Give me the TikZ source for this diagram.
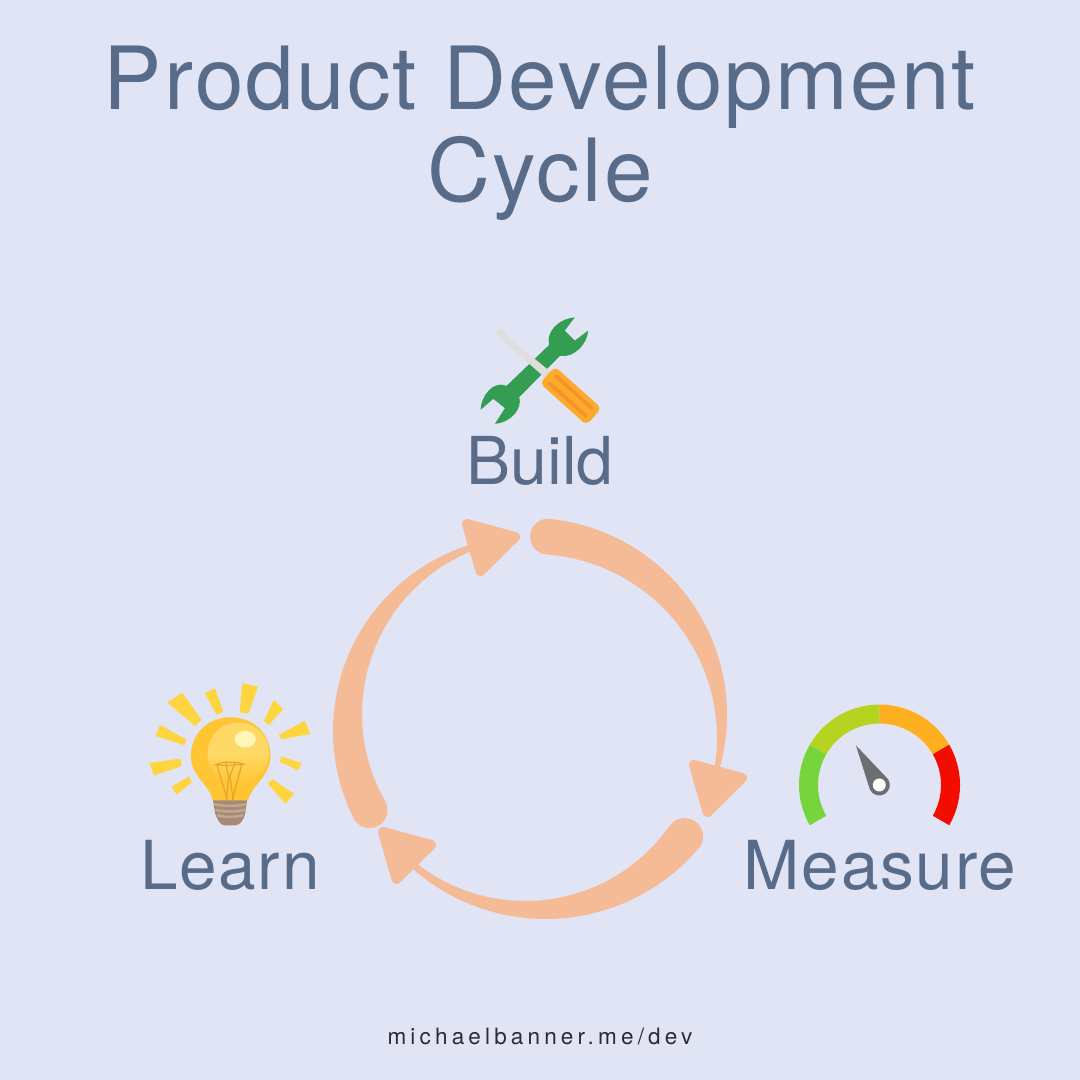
\documentclass[tikz,border=0pt]{standalone}
\usepackage{fontspec}
\newfontfamily\headfont[LetterSpace=2.5]{TeX Gyre Heros}
\newfontfamily\plainfont{TeX Gyre Heros}
\newfontfamily\footfont[LetterSpace=18.5]{TeX Gyre Heros}
\usetikzlibrary{calc}
\definecolor{pagebg}{HTML}{E0E4F5}
\definecolor{slateblue}{HTML}{586B88}
\definecolor{peach}{HTML}{F4BB96}
\definecolor{footink}{HTML}{2B2B33}
\definecolor{wrenchgreen}{HTML}{339E51}
\definecolor{bladegray}{HTML}{DEDEDE}
\definecolor{gripyellow}{HTML}{FBAA2A}
\definecolor{gripstripe}{HTML}{F7922B}
\definecolor{rayyellow}{HTML}{FFD53F}
\definecolor{bulbyellow}{HTML}{FFC535}
\definecolor{bulblight}{HTML}{FFD966}
\definecolor{bulbshine}{HTML}{FFF6B8}
\definecolor{filament}{HTML}{E5A52C}
\definecolor{capbrown}{HTML}{A58B75}
\definecolor{capstripe}{HTML}{BFA88F}
\definecolor{needlegray}{HTML}{6D6E71}
\tikzset{
  bigtitle/.style={font=\headfont\fontsize{24.8}{26.3}\selectfont, text=slateblue, align=center, inner sep=0pt},
  steplabel/.style={font=\headfont\fontsize{19.2}{24}\selectfont, text=slateblue, inner sep=0pt, anchor=base},
  headtip/.style={fill=peach, draw=peach, line width=0.1cm, line join=round},
}
\begin{document}
\begin{tikzpicture}[x=0.01cm, y=0.01cm]
  % ── Page ────────────────────────────────────────────────
  \useasboundingbox (0,0) rectangle (1080,1080);
  \fill[pagebg] (0,0) rectangle (1080,1080);

  % ── Texts ───────────────────────────────────────────────
  \node[bigtitle, anchor=base] (title) at (540,878) {Product Development\\Cycle};
  \node[steplabel, font=\plainfont\fontsize{18.8}{24}\selectfont] (build) at (540,595.7) {Build};
  \node[steplabel] (learn) at (230,190) {Learn};
  \node[steplabel] (measure) at (880,190) {Measure};
  \node[font=\footfont\fontsize{6.4}{8}\selectfont, text=footink, inner sep=0pt, anchor=base] (footer) at (540,35.7) {michaelbanner.me/dev};

  % ── Tapered arcs ────────────────────────────────────────
  % Build to Measure
  \fill[peach] ($(530,365)+(84:197)$) arc[start angle=84, end angle=-18, radius=197]
    -- ($(533,342)+(-12:184)$) arc[start angle=-12, end angle=85.3, radius=184]
    arc[start angle=270, end angle=90, radius=18] -- cycle;
  % Measure to Learn
  \fill[peach] ($(545.6,362)+(-40.4:201)$) arc[start angle=-40.4, end angle=-133, radius=201]
    -- ($(525.3,355)+(-129:176)$) arc[start angle=-129, end angle=-35, radius=176]
    arc[start angle=145, end angle=-40.4, radius=18.5] -- cycle;
  % Learn to Build
  \fill[peach] ($(528,349)+(206.5:195)$) arc[start angle=206.5, end angle=104, radius=195]
    -- ($(538,366)+(110:176)$) arc[start angle=110, end angle=209.7, radius=176]
    arc[start angle=29.7, end angle=-153.5, radius=18] -- cycle;

  % Arrow heads, one triangle moved around
  \foreach \hx/\hy in {0/0, 227/-241, -84/-308}{
    \filldraw[headtip, shift={(\hx,\hy)}] (467,556) -- (515,543) -- (480.5,509) -- cycle;
  }

  % ── Tools above Build ───────────────────────────────────
  \begin{scope}[shift={(460,780)}, x=0.00333cm, y=-0.00333cm]
    \fill[wrenchgreen] (140,258) -- (268,135) .. controls (258,100) and (290,58) .. (345,52)
      -- (315,92) -- (345,122) -- (385,92) .. controls (383,130) and (345,175) .. (300,168)
      -- (178,292) .. controls (188,325) and (155,368) .. (105,372)
      -- (135,325) -- (100,297) -- (62,330) .. controls (62,290) and (100,240) .. (140,258) -- cycle;
    \fill[bladegray] (107,100) -- (125,80) -- (148,115) -- (280,222) -- (260,238) -- (125,118) -- cycle;
    \fill[gripyellow, rounded corners=0.05cm] (285,200) -- (425,325) -- (380,376) -- (240,250) -- cycle;
    \draw[gripstripe, line width=0.035cm, line cap=round] (288,228) -- (395,325);
    \draw[gripstripe, line width=0.035cm, line cap=round] (268,250) -- (378,348);
  \end{scope}

  % ── Bulb above Learn ────────────────────────────────────
  \begin{scope}[shift={(140,410)}, x=0.00333cm, y=-0.00333cm]
    \foreach \ray in {
      {(82,98) -- (127,68) -- (185,150) -- (165,168)},
      {(195,70) -- (225,55) -- (250,125) -- (230,135)},
      {(307,40) -- (355,50) -- (325,132) -- (300,127)},
      {(402,90) -- (430,117) -- (388,165) -- (372,153)},
      {(417,195) -- (495,153) -- (512,192) -- (425,208)},
      {(425,260) -- (487,280) -- (475,302) -- (420,275)},
      {(397,328) -- (463,372) -- (437,402) -- (384,342)},
      {(148,320) -- (155,338) -- (110,375) -- (95,350)},
      {(28,280) -- (122,266) -- (124,290) -- (42,317)},
      {(60,165) -- (141,210) -- (133,226) -- (47,198)}}{
      \fill[rayyellow] \ray -- cycle;
    }
    \fill[capbrown] (219,390) -- (322,390) -- (316,432) .. controls (312,448) and (302,467) .. (285,467)
      -- (255,467) .. controls (240,467) and (232,448) .. (226,432) -- cycle;
    \fill[bulbyellow] (218,392) .. controls (210,345) and (153,320) .. (153,260)
      .. controls (153,190) and (205,142) .. (272,142) .. controls (340,142) and (392,190) .. (392,260)
      .. controls (392,320) and (335,345) .. (325,392) -- cycle;
    \shade[top color=bulblight, bottom color=bulbyellow, middle color=bulblight] (295,250) circle[radius=92];
    \fill[bulbshine] (316,208) ellipse[x radius=32, y radius=25];
    \draw[filament, line width=0.012cm] (226,285) -- (250,277) -- (290,277) -- (311,283) -- (265,287) -- cycle;
    \draw[filament, line width=0.012cm] (232,288) -- (262,390) (305,286) -- (278,390);
    \draw[filament, line width=0.012cm] (258,280) -- (266,320) -- (260,390) (285,280) -- (270,320) -- (280,390);
    \foreach \sy/\sl/\sr in {403/222/319, 420/226/316, 436/232/310}{
      \draw[capstripe, line width=0.025cm] (\sl,\sy) .. controls (250,\sy+7) and (290,\sy+7) .. (\sr,\sy);
    }
  \end{scope}

  % ── Gauge above Measure ─────────────────────────────────
  \foreach \angA/\angB/\segcol in {210/150/76D53B, 150/90/B5D320, 90/30/FFB020, 30/-30/F20D00}{
    \definecolor{segment}{HTML}{\segcol}
    \fill[segment] ($(879.5,295)+(\angA:80.5)$) arc[start angle=\angA, end angle=\angB, radius=80.5]
      -- ($(879.5,295)+(\angB:61.5)$) arc[start angle=\angB, end angle=\angA, radius=61.5] -- cycle;
  }
  \fill[needlegray] (856,334.5) -- ($(879.3,295)+(54:10.5)$) arc[start angle=54, end angle=-171, radius=10.5] -- cycle;
  \fill[white] (879.3,295) circle[radius=6.5];
\end{tikzpicture}
\end{document}
